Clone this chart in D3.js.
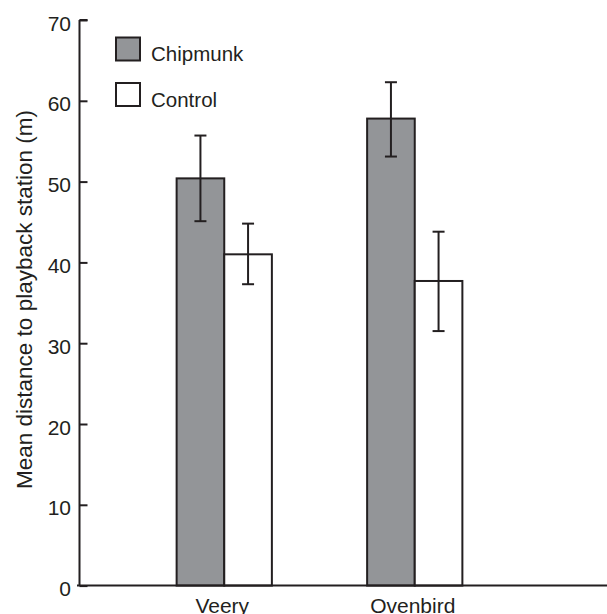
<!DOCTYPE html>
<html><head><meta charset="utf-8">
<script src="https://cdn.jsdelivr.net/npm/d3@7"></script>
<style>body{margin:0;background:#fff}svg{display:block}text{font-family:"Liberation Sans",Arial,sans-serif;fill:#231f20}</style>
</head><body>
<script>
const categories = ["Veery", "Ovenbird"];
const seriesNames = ["Chipmunk", "Control"];
const chipmunkMean = [50.4, 57.8];
const chipmunkLow = [45.1, 53.1];
const chipmunkHigh = [55.7, 62.3];
const controlMean = [41.0, 37.7];
const controlLow = [37.3, 31.5];
const controlHigh = [44.8, 43.8];
const yTicks = [0, 10, 20, 30, 40, 50, 60, 70];
const colors = ["#939598", "#ffffff"];

const W = 607, H = 614;
const svg = d3.select("body").append("svg").attr("width", W).attr("height", H);
const ink = "#231f20";

const y = d3.scaleLinear().domain([0, 70]).range([585.6, 20]);
const x0 = d3.scaleBand().domain(categories).range([129, 510]).paddingInner(0.5).paddingOuter(0.25);
const x1 = d3.scaleBand().domain(seriesNames).range([0, x0.bandwidth()]);

const data = categories.map((c, i) => ({
  cat: c,
  vals: [
    {s: seriesNames[0], v: chipmunkMean[i], lo: chipmunkLow[i], hi: chipmunkHigh[i], color: colors[0]},
    {s: seriesNames[1], v: controlMean[i], lo: controlLow[i], hi: controlHigh[i], color: colors[1]}
  ]
}));

const g = svg.selectAll("g.grp").data(data).enter().append("g")
  .attr("transform", d => `translate(${x0(d.cat)},0)`);
g.selectAll("rect").data(d => d.vals).enter().append("rect")
  .attr("x", d => x1(d.s)).attr("width", x1.bandwidth())
  .attr("y", d => y(d.v)).attr("height", d => y(0) - y(d.v))
  .attr("fill", d => d.color).attr("stroke", ink).attr("stroke-width", 2);

const eb = g.selectAll("g.eb").data(d => d.vals).enter().append("g")
  .attr("stroke", ink).attr("stroke-width", 2);
eb.append("line").attr("x1", d => x1(d.s) + x1.bandwidth()/2).attr("x2", d => x1(d.s) + x1.bandwidth()/2)
  .attr("y1", d => y(d.lo)).attr("y2", d => y(d.hi));
eb.append("line").attr("x1", d => x1(d.s) + x1.bandwidth()/2 - 6).attr("x2", d => x1(d.s) + x1.bandwidth()/2 + 6)
  .attr("y1", d => y(d.hi)).attr("y2", d => y(d.hi));
eb.append("line").attr("x1", d => x1(d.s) + x1.bandwidth()/2 - 6).attr("x2", d => x1(d.s) + x1.bandwidth()/2 + 6)
  .attr("y1", d => y(d.lo)).attr("y2", d => y(d.lo));

// Y axis with inward ticks
const yAxis = d3.axisRight(y).tickValues(yTicks).tickSize(8).tickFormat("");
const ya = svg.append("g").attr("transform", "translate(79.5,0)").call(yAxis);
ya.select(".domain").attr("stroke", ink).attr("stroke-width", 2).attr("d", `M0,${y(70)}H8M0,${y(70)}V${y(0)}`);
ya.selectAll(".tick line").attr("stroke", ink).attr("stroke-width", 2);
svg.append("g").selectAll("text").data(yTicks).enter().append("text")
  .attr("x", 71).attr("y", d => y(d) + 10.5).attr("text-anchor", "end")
  .attr("font-size", 21).text(d => d);

// X axis baseline
svg.append("line").attr("x1", 77).attr("x2", W).attr("y1", y(0)).attr("y2", y(0))
  .attr("stroke", ink).attr("stroke-width", 2);
svg.append("g").selectAll("text").data(categories).enter().append("text")
  .attr("x", d => x0(d) + x0.bandwidth()/2 - 2).attr("y", 613)
  .attr("text-anchor", "middle").attr("font-size", 21).text(d => d);

// Y title
svg.append("text").attr("transform", "translate(32,299.5) rotate(-90)")
  .attr("text-anchor", "middle").attr("font-size", 22.5)
  .text("Mean distance to playback station (m)");

// Legend
const leg = svg.append("g").selectAll("g").data(seriesNames).enter().append("g")
  .attr("transform", (d, i) => `translate(116,${37.5 + i * 45.5})`);
leg.append("rect").attr("width", 24).attr("height", 23)
  .attr("fill", (d, i) => colors[i]).attr("stroke", ink).attr("stroke-width", 2);
leg.append("text").attr("x", 35).attr("y", 23.5).attr("font-size", 20.5).text(d => d);
</script>
</body></html>
